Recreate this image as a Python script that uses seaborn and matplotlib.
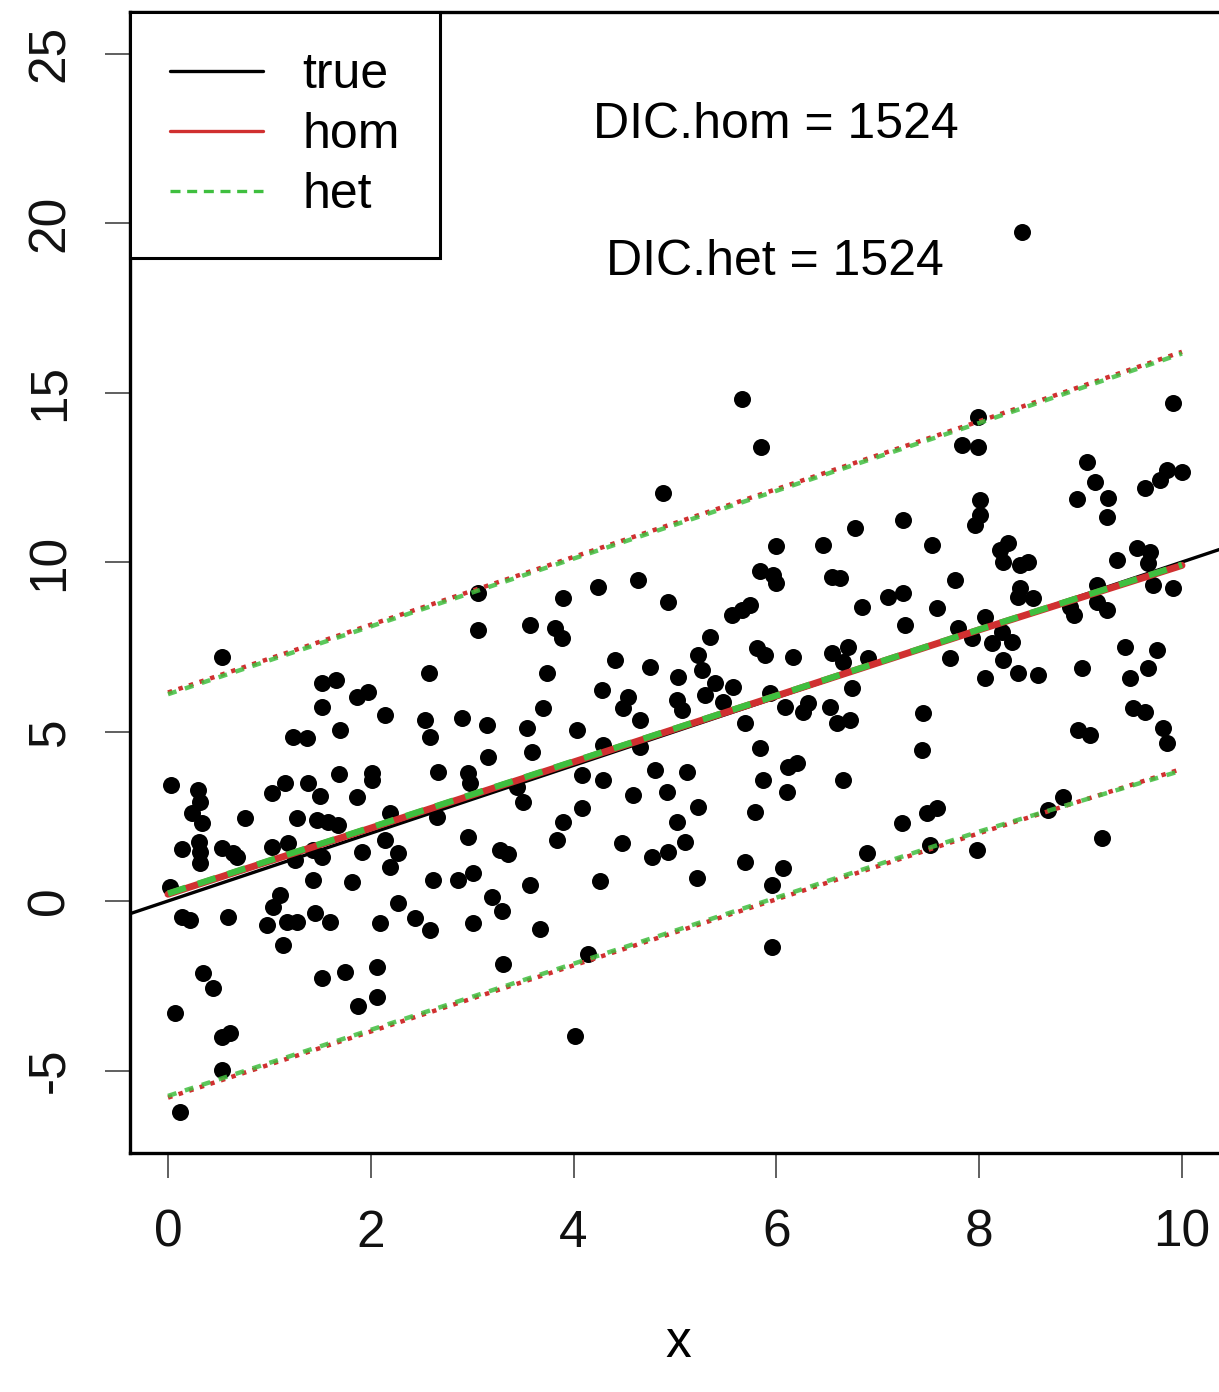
import numpy as np
import pandas as pd
import matplotlib
matplotlib.use("Agg")
import matplotlib.pyplot as plt
import seaborn as sns

# Observed data
x_obs = [0.53, 1.52, 1.66, 1.86, 1.97, 1.52, 2.14, 1.70, 1.23, 1.37, 1.69, 2.01, 2.01, 0.03, 0.30,
         0.32, 0.24, 0.34, 1.15, 1.03, 1.38, 1.50, 1.86, 0.76, 1.27, 1.47, 1.58, 1.68, 2.19, 0.14,
         0.31, 0.32, 0.32, 0.53, 0.64, 0.68, 1.03, 1.18, 1.25, 1.43, 1.52, 1.91, 2.14, 2.27, 2.19,
         1.43, 1.81, 0.02, 0.14, 0.22, 0.59, 1.10, 1.04, 0.98, 1.17, 1.27, 1.13, 1.45, 1.60, 2.09,
         2.27, 2.44, 0.35, 0.44, 0.07, 0.53, 0.61, 0.53, 0.12, 1.52, 1.75, 2.06, 2.06, 1.87,
         3.06, 3.90, 4.24, 4.64, 4.93, 3.06, 3.57, 3.82, 3.89, 2.57, 3.74, 4.41, 4.75, 4.28, 4.54,
         4.49, 4.65, 5.03, 5.02, 2.53, 2.58, 2.90, 3.15, 3.54, 3.70, 4.03, 4.29, 3.16, 3.59, 4.65,
         4.88, 2.66, 2.96, 2.98, 3.50, 3.44, 4.08, 4.29, 4.08, 4.80, 4.59, 4.92, 5.02, 2.65, 3.90,
         3.84, 4.48, 4.77, 4.93, 2.96, 3.27, 3.35, 2.61, 2.86, 3.01, 3.20, 3.29, 3.57, 4.26, 2.58,
         3.01, 3.67, 3.30, 4.14, 4.01,
         5.66, 5.85, 6.78, 7.25, 7.53, 6.00, 6.46, 5.84, 5.97, 6.00, 6.55, 6.63, 5.56, 5.66, 5.74,
         6.84, 7.10, 7.25, 7.58, 7.27, 5.35, 5.23, 5.27, 5.81, 5.89, 6.16, 6.55, 6.71, 6.66, 6.90,
         5.39, 5.57, 5.30, 5.07, 5.47, 5.69, 5.94, 6.08, 6.26, 6.31, 6.53, 6.60, 6.73, 6.75, 7.45,
         7.44, 5.84, 6.11, 6.20, 5.87, 6.10, 6.66, 5.12, 5.23, 5.79, 5.10, 5.22, 5.69, 6.07, 5.96,
         6.89, 7.24, 7.49, 7.58, 7.51, 5.96,
         9.91, 7.99, 7.83, 7.99, 9.06, 9.14, 8.96, 9.27, 9.26, 9.64, 9.78, 9.85, 10.00, 8.01, 8.01,
         7.96, 8.21, 8.28, 8.23, 8.40, 8.48, 9.36, 9.56, 9.68, 9.66, 9.71, 9.91, 7.76, 8.40, 8.38,
         8.53, 8.06, 7.79, 7.93, 8.13, 8.32, 8.22, 8.90, 8.93, 9.16, 9.16, 9.26, 7.71, 8.23, 9.44,
         9.75, 9.66, 9.01, 8.38, 8.58, 8.06, 9.49, 9.52, 9.64, 9.81, 9.85, 8.97, 9.09, 7.98, 8.83,
         8.68, 9.21, 8.42]
y_obs = [7.20, 6.43, 6.52, 6.02, 6.17, 5.72, 5.49, 5.04, 4.84, 4.81, 3.75, 3.78, 3.57, 3.42, 3.27,
         2.92, 2.60, 2.30, 3.48, 3.19, 3.48, 3.10, 3.07, 2.45, 2.45, 2.39, 2.33, 2.24, 2.60, 1.53,
         1.74, 1.45, 1.12, 1.56, 1.42, 1.30, 1.59, 1.71, 1.21, 1.50, 1.30, 1.45, 1.80, 1.42, 1.00,
         0.62, 0.56, 0.41, -0.47, -0.56, -0.47, 0.18, -0.18, -0.71, -0.62, -0.62, -1.30, -0.35, -0.62, -0.65,
         -0.06, -0.50, -2.12, -2.57, -3.30, -4.01, -3.89, -4.99, -6.22, -2.27, -2.09, -1.95, -2.83, -3.10,
         9.09, 8.94, 9.26, 9.47, 8.82, 7.99, 8.14, 8.05, 7.76, 6.73, 6.73, 7.11, 6.90, 6.22, 6.02,
         5.69, 5.34, 6.61, 5.93, 5.34, 4.84, 5.40, 5.19, 5.10, 5.69, 5.04, 4.60, 4.25, 4.40, 4.54,
         12.04, 3.81, 3.78, 3.48, 2.92, 3.36, 3.72, 3.57, 2.74, 3.86, 3.13, 3.22, 2.33, 2.48, 2.33,
         1.80, 1.71, 1.30, 1.45, 1.89, 1.50, 1.39, 0.62, 0.62, 0.83, 0.12, -0.29, 0.47, 0.59, -0.86,
         -0.65, -0.83, -1.86, -1.56, -3.98,
         14.81, 13.39, 11.00, 11.24, 10.50, 10.47, 10.50, 9.73, 9.62, 9.38, 9.56, 9.53, 8.44, 8.58, 8.73,
         8.67, 8.97, 9.09, 8.64, 8.14, 7.79, 7.26, 6.81, 7.46, 7.26, 7.20, 7.32, 7.49, 7.05, 7.17,
         6.43, 6.31, 6.08, 5.63, 5.87, 5.25, 6.14, 5.72, 5.58, 5.84, 5.72, 5.25, 5.34, 6.28, 5.55,
         4.45, 4.51, 3.95, 4.07, 3.57, 3.22, 3.57, 3.81, 2.77, 2.63, 1.74, 0.68, 1.15, 0.97, 0.47,
         1.42, 2.30, 2.60, 2.74, 1.65, -1.36,
         14.69, 14.28, 13.45, 13.39, 12.95, 12.36, 11.86, 11.89, 11.33, 12.18, 12.42, 12.71, 12.65, 11.83, 11.39,
         11.09, 10.35, 10.56, 10.00, 9.91, 10.00, 10.06, 10.41, 10.29, 9.97, 9.32, 9.23, 9.47, 9.23, 8.97,
         8.94, 8.38, 8.05, 7.76, 7.61, 7.64, 7.94, 8.67, 8.44, 9.32, 8.82, 8.58, 7.17, 7.11, 7.49,
         7.40, 6.87, 6.87, 6.73, 6.67, 6.58, 6.58, 5.69, 5.58, 5.10, 4.66, 5.04, 4.90, 1.50, 3.07,
         2.68, 1.86, 19.73]

# True regression line y = a + b x
true_intercept = 0.0
true_slope = 1.0

# Posterior fits on a grid: mean and 95% predictive limits
x_grid = [0, 2, 4, 6, 8, 10]
hom_mean = [0.20, 2.15, 4.10, 6.05, 8.00, 9.90]
hom_upper = [6.15, 8.15, 10.15, 12.15, 14.15, 16.20]
hom_lower = [-5.80, -3.85, -1.90, 0.05, 2.00, 3.90]
het_mean = [0.22, 2.17, 4.12, 6.06, 8.01, 9.92]
het_upper = [6.10, 8.10, 10.10, 12.10, 14.10, 16.15]
het_lower = [-5.75, -3.80, -1.85, 0.10, 2.05, 3.85]

legend_labels = ["true", "hom", "het"]
dic_hom = 1524
dic_het = 1524

RED = "#d03030"
GREEN = "#3fbf3f"

sns.set_style("ticks")
plt.rcParams["font.family"] = ["Liberation Sans", "DejaVu Sans"]
plt.rcParams["text.color"] = "black"
plt.rcParams["axes.labelcolor"] = "black"
plt.rcParams["xtick.labelcolor"] = "#111111"
plt.rcParams["ytick.labelcolor"] = "#111111"

W, H = 1219, 1392
fig = plt.figure(figsize=(W / 100, H / 100), dpi=100)
ax = fig.add_axes([130 / W, 1 - 1153 / H, (1226 - 130) / W, (1153 - 12) / H])

pts = pd.DataFrame({"x": x_obs, "y": y_obs})
sns.scatterplot(data=pts, x="x", y="y", ax=ax, color="black", s=150,
                linewidth=0, legend=False, zorder=3)

ax.axline((0, true_intercept), slope=true_slope, color="black", lw=2.4, zorder=4)

fits = pd.DataFrame({"x": x_grid, "hom_mean": hom_mean, "hom_upper": hom_upper,
                     "hom_lower": hom_lower, "het_mean": het_mean,
                     "het_upper": het_upper, "het_lower": het_lower})

sns.lineplot(data=fits, x="x", y="hom_mean", ax=ax, color=RED, lw=5, zorder=5)
sns.lineplot(data=fits, x="x", y="het_mean", ax=ax, color=GREEN, lw=4.5,
             linestyle=(0, (3, 2)), zorder=6)
for col in ["hom_upper", "hom_lower"]:
    sns.lineplot(data=fits, x="x", y=col, ax=ax, color=RED, lw=3.2,
                 linestyle=(0, (1, 1.5)), zorder=5)
for col in ["het_upper", "het_lower"]:
    sns.lineplot(data=fits, x="x", y=col, ax=ax, color=GREEN, lw=3.2,
                 linestyle=(0, (2, 2)), zorder=6, alpha=0.85)

ax.text(5.99, 22.9, f"DIC.hom = {dic_hom}", ha="center", va="center", fontsize=36)
ax.text(5.99, 18.85, f"DIC.het = {dic_het}", ha="center", va="center", fontsize=36)

x_right = (1226 - 168) / 101.4
ax.set_xlim((130 - 168) / 101.4, x_right)
ax.set_ylim((901 - 1153) / 33.9, (901 - 12) / 33.9)
ax.set_xticks([0, 2, 4, 6, 8, 10])
ax.set_yticks([-5, 0, 5, 10, 15, 20, 25])
ax.set_yticklabels(["-5", "0", "5", "10", "15", "20", "25"], rotation=90, va="center")
ax.tick_params(axis="both", labelsize=37, length=18, width=1.2, color="#444444", pad=22)
ax.set_xlabel("x", fontsize=37, labelpad=44)
ax.set_ylabel("")
for sp in ax.spines.values():
    sp.set_linewidth(2.4)
    sp.set_color("black")

handles = [
    plt.Line2D([], [], color="black", lw=2.4),
    plt.Line2D([], [], color=RED, lw=2.4),
    plt.Line2D([], [], color=GREEN, lw=2.4, linestyle=(0, (3, 2))),
]
leg = ax.legend(handles, legend_labels, loc="upper left", borderaxespad=0,
                fontsize=36, frameon=True, fancybox=False, edgecolor="black",
                handlelength=1.85, handletextpad=0.8, labelspacing=0.28,
                borderpad=0.8)
leg.get_frame().set_linewidth(2.2)
leg.get_frame().set_alpha(1)

fig.savefig("out.png", dpi=100)
